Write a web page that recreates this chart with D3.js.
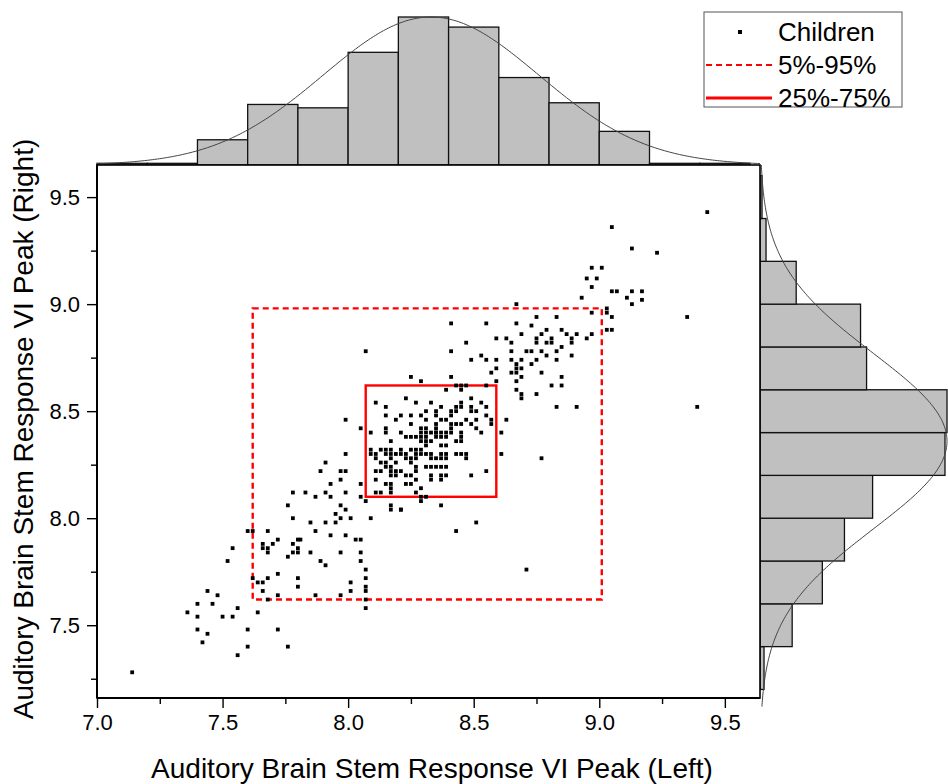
<!DOCTYPE html>
<html><head><meta charset="utf-8">
<script src="https://cdn.jsdelivr.net/npm/d3@7"></script>
<style>body{margin:0;background:#fff}svg{display:block;font-family:"Liberation Sans",Arial,sans-serif}</style>
</head><body><svg id="c" width="948" height="784"></svg>
<script>
// ---- data ----
const xTicks = [7.0, 7.5, 8.0, 8.5, 9.0, 9.5];
const xMinor = [7.25, 7.75, 8.25, 8.75, 9.25];
const yTicks = [7.5, 8.0, 8.5, 9.0, 9.5];
const yMinor = [7.25, 7.75, 8.25, 8.75, 9.25];
const binWidth = 0.2;
const topBinStarts = [7.0, 7.2, 7.4, 7.6, 7.8, 8.0, 8.2, 8.4, 8.6, 8.8, 9.0, 9.2, 9.4];
const topCounts    = [1, 1, 15, 36, 34, 67, 88, 82, 52, 37, 20, 1, 1];
const rightBinStarts = [7.2, 7.4, 7.6, 7.8, 8.0, 8.2, 8.4, 8.6, 8.8, 9.0, 9.2, 9.4];
const rightCounts    = [2, 16, 31, 42, 56, 92, 93, 53, 50, 18, 3, 1];
const topFit = [8.33, 0.43, 88];    // mean, sd, peak (counts)
const rightFit = [8.36, 0.41, 93];
const range5to95Left = [7.62, 9.01];
const range5to95Right = [7.62, 8.98];
const range25to75Left = [8.07, 8.59];
const range25to75Right = [8.10, 8.62];
const legendLabels = ["Children", "5%-95%", "25%-75%"];
const xTitle = "Auditory Brain Stem Response VI Peak (Left)";
const yTitle = "Auditory Brain Stem Response VI Peak (Right)";
// [left, right]
const children = [
[9.43,9.43],[9.05,9.36],[9.13,9.26],[9.23,9.24],[8.97,9.17],[9.01,9.17],[8.95,9.12],[8.99,9.12],[8.97,9.08],[8.93,9.03],
[9.05,9.06],[9.07,9.06],[9.11,9.03],[9.13,9.06],[9.17,9.06],[9.13,9.00],[9.17,9.02],[9.35,8.94],[9.39,8.52],
[8.67,9.00],[9.03,8.98],[9.03,8.96],[9.05,8.94],[9.03,8.88],[9.05,8.88],[8.97,8.96],[8.41,8.91],[8.55,8.91],[8.67,8.91],
[8.75,8.94],[8.83,8.94],[8.73,8.90],[8.85,8.88],[8.79,8.88],[8.69,8.86],[8.77,8.86],[8.87,8.86],[8.89,8.84],[8.91,8.86],
[8.95,8.84],[8.97,8.86],[8.75,8.84],[8.75,8.82],[8.79,8.82],[8.81,8.84],[8.81,8.82],[8.59,8.84],[8.63,8.84],[8.65,8.82],
[8.47,8.82],[8.89,8.82],[8.85,8.80],[8.41,8.78],[8.65,8.78],[8.71,8.78],[8.73,8.78],[8.77,8.78],[8.83,8.78],[8.89,8.76],
[8.79,8.76],[8.53,8.76],[8.49,8.74],[8.55,8.74],[8.59,8.74],[8.65,8.74],[8.67,8.72],[8.69,8.74],[8.73,8.72],[8.75,8.74],
[8.83,8.74],[8.59,8.70],[8.57,8.68],[8.67,8.70],[8.69,8.70],[8.65,8.68],[8.67,8.68],[8.69,8.66],[8.77,8.68],[8.25,8.66],
[8.29,8.64],[8.41,8.66],[8.59,8.64],[8.67,8.64],[8.67,8.60],[8.69,8.58],[8.69,8.56],[8.75,8.58],[8.81,8.62],[8.85,8.62],
[8.85,8.66],[8.83,8.52],[8.91,8.52],[8.39,8.60],[8.43,8.62],[8.45,8.62],[8.47,8.62],[8.45,8.60],[8.55,8.62],[8.07,8.78],
[8.11,8.54],[8.23,8.56],[8.27,8.54],[8.15,8.52],[8.33,8.54],[8.15,8.48],[8.19,8.46],[8.21,8.48],[8.25,8.48],[8.29,8.48],
[8.31,8.50],[8.31,8.46],[8.05,8.42],[8.09,8.40],[8.15,8.42],[8.15,8.40],[8.21,8.40],[8.25,8.44],[8.25,8.38],[8.27,8.38],
[8.29,8.40],[8.29,8.38],[8.31,8.40],[8.31,8.38],[8.33,8.40],[8.17,8.36],[8.29,8.36],[8.31,8.34],[8.33,8.36],[8.09,8.32],
[8.09,8.30],[8.11,8.30],[8.11,8.28],[8.13,8.32],[8.15,8.32],[8.17,8.32],[8.15,8.30],[8.17,8.30],[8.17,8.28],[8.19,8.30],
[8.21,8.30],[8.21,8.32],[8.23,8.30],[8.25,8.32],[8.27,8.32],[8.27,8.30],[8.29,8.32],[8.31,8.30],[8.33,8.30],[8.25,8.28],
[8.27,8.28],[8.13,8.26],[8.15,8.26],[8.19,8.26],[8.31,8.24],[8.11,8.22],[8.17,8.22],[8.19,8.20],[8.21,8.22],[8.15,8.24],
[8.23,8.20],[8.25,8.20],[8.27,8.22],[8.33,8.20],[8.11,8.18],[8.15,8.16],[8.17,8.16],[8.23,8.16],[8.25,8.16],[8.27,8.18],
[8.05,8.16],[8.11,8.12],[8.13,8.12],[8.17,8.12],[8.27,8.12],[8.29,8.14],[8.07,8.08],[8.23,8.38],[8.37,8.38],[8.39,8.38],
[8.35,8.40],[8.31,8.36],[8.37,8.34],[8.39,8.34],[8.23,8.28],[8.29,8.30],[8.35,8.28],[8.37,8.30],[8.39,8.30],[8.25,8.26],
[8.33,8.24],[8.37,8.24],[8.39,8.24],[8.17,8.24],[8.19,8.22],[8.17,8.20],[8.13,8.22],[8.33,8.18],[8.37,8.18],[8.37,8.20],
[8.39,8.20],[8.17,8.14],[8.49,8.56],[8.45,8.54],[8.43,8.52],[8.45,8.52],[8.53,8.54],[8.55,8.52],[8.37,8.52],[8.35,8.50],
[8.35,8.48],[8.41,8.50],[8.43,8.50],[8.41,8.48],[8.49,8.52],[8.49,8.50],[8.51,8.50],[8.55,8.48],[8.57,8.46],[8.57,8.44],
[8.37,8.46],[8.39,8.46],[8.47,8.46],[8.51,8.46],[8.49,8.44],[8.35,8.44],[8.35,8.42],[8.35,8.40],[8.43,8.44],[8.45,8.44],
[8.41,8.42],[8.51,8.42],[8.63,8.46],[8.61,8.40],[8.37,8.40],[8.39,8.40],[8.35,8.38],[8.41,8.40],[8.45,8.40],[8.43,8.36],
[8.45,8.36],[8.39,8.28],[8.43,8.30],[8.45,8.30],[8.47,8.30],[8.35,8.24],[8.61,8.30],[8.49,8.20],[8.55,8.22],[8.37,8.06],
[8.77,8.28],[8.51,7.98],[8.43,7.94],[8.71,7.76],[8.29,8.08],[8.29,8.10],[8.31,8.10],[8.21,8.04],[8.29,8.42],[8.31,8.42],
[8.45,8.38],[8.33,8.28],[8.37,8.28],[8.47,8.28],[8.17,8.06],[8.17,8.04],[8.21,8.04],[8.41,8.44],[8.53,8.40],[8.27,8.24],
[7.99,8.46],[7.99,8.30],[7.91,8.26],[7.89,8.22],[7.97,8.22],[7.99,8.22],[7.97,8.18],[7.93,8.16],[7.78,8.12],[7.83,8.12],
[7.87,8.10],[7.91,8.12],[7.93,8.10],[7.99,8.12],[8.05,8.10],[7.76,8.06],[7.97,8.06],[7.99,8.04],[7.95,8.02],[7.97,8.00],
[8.01,8.00],[7.78,8.00],[7.85,7.98],[7.91,7.98],[7.95,7.98],[8.09,8.00],[7.87,7.94],[7.60,7.94],[7.62,7.94],[7.68,7.94],
[7.93,7.92],[7.99,7.92],[8.03,7.90],[8.05,7.90],[7.66,7.88],[7.66,7.86],[7.70,7.88],[7.72,7.90],[7.78,7.88],[7.80,7.90],
[7.81,7.90],[7.80,7.86],[7.80,7.84],[7.78,7.84],[7.76,7.82],[7.68,7.86],[7.68,7.84],[7.54,7.86],[7.52,7.80],[7.85,7.84],
[7.89,7.80],[7.91,7.78],[7.97,7.84],[8.05,7.84],[8.05,7.80],[8.07,7.76],[8.07,7.72],[7.72,7.74],[7.68,7.72],[7.66,7.70],
[7.64,7.70],[7.62,7.72],[7.80,7.72],[7.80,7.68],[8.01,7.70],[8.07,7.68],[8.07,7.66],[7.66,7.66],[7.68,7.62],[7.72,7.64],
[7.87,7.64],[7.97,7.64],[8.01,7.66],[8.07,7.62],[8.07,7.58],[7.44,7.66],[7.48,7.64],[7.40,7.60],[7.46,7.60],[7.56,7.58],
[7.64,7.56],[7.36,7.56],[7.40,7.54],[7.50,7.54],[7.54,7.54],[7.40,7.48],[7.44,7.46],[7.60,7.48],[7.72,7.48],[7.42,7.42],
[7.60,7.40],[7.76,7.40],[7.56,7.36],[7.14,7.28]
];

// ---- chart ----
const svg = d3.select("#c");
const x = d3.scaleLinear().domain([7.0, 9.64]).range([97, 760]);
const y = d3.scaleLinear().domain([7.16, 9.65]).range([698, 165]);
const topH = d3.scaleLinear().domain([0, 88]).range([165, 17]);
const rightW = d3.scaleLinear().domain([0, 93]).range([760, 947]);
const [x0, x1] = x.range(), [y0, y1] = y.range();

// top histogram
svg.append("g").selectAll("rect").data(topBinStarts.map((s,i)=>[s,topCounts[i]])).join("rect")
  .attr("x", d=>x(d[0])).attr("width", d=>x(d[0]+binWidth)-x(d[0]))
  .attr("y", d=>topH(d[1])).attr("height", d=>topH(0)-topH(d[1]))
  .attr("fill","#c0c0c0").attr("stroke","#111").attr("stroke-width",1.3);
const gauss = (v,p)=>p[2]*Math.exp(-((v-p[0])**2)/(2*p[1]*p[1]));
const tv = d3.range(7.0, 9.641, 0.01);
svg.append("path").attr("d", d3.line().x(v=>x(v)).y(v=>topH(gauss(v,topFit)))(tv))
  .attr("fill","none").attr("stroke","#444").attr("stroke-width",1);

// right histogram
svg.append("g").selectAll("rect").data(rightBinStarts.map((s,i)=>[s,rightCounts[i]])).join("rect")
  .attr("y", d=>y(Math.min(d[0]+binWidth, 9.65))).attr("height", d=>y(d[0])-y(Math.min(d[0]+binWidth,9.65)))
  .attr("x", rightW(0)).attr("width", d=>rightW(d[1])-rightW(0))
  .attr("fill","#c0c0c0").attr("stroke","#111").attr("stroke-width",1.3);
const rv = d3.range(7.12, 9.651, 0.01);
svg.append("path").attr("d", d3.line().y(v=>y(v)).x(v=>rightW(gauss(v,rightFit)))(rv))
  .attr("fill","none").attr("stroke","#444").attr("stroke-width",1);

// plot frame
svg.append("rect").attr("x",x0).attr("y",y1).attr("width",x1-x0).attr("height",y0-y1)
  .attr("fill","#fff").attr("stroke","#000").attr("stroke-width",1.6);

// percentile boxes
svg.append("rect").attr("x",x(range5to95Left[0])).attr("width",x(range5to95Left[1])-x(range5to95Left[0]))
  .attr("y",y(range5to95Right[1])).attr("height",y(range5to95Right[0])-y(range5to95Right[1]))
  .attr("fill","none").attr("stroke","#ff0000").attr("stroke-width",2.4).attr("stroke-dasharray","6,4");
svg.append("rect").attr("x",x(range25to75Left[0])).attr("width",x(range25to75Left[1])-x(range25to75Left[0]))
  .attr("y",y(range25to75Right[1])).attr("height",y(range25to75Right[0])-y(range25to75Right[1]))
  .attr("fill","none").attr("stroke","#ff0000").attr("stroke-width",2.4);

// points
const ms = 3.8;
svg.append("g").selectAll("rect").data(children).join("rect")
  .attr("x", d=>x(d[0])-ms/2).attr("y", d=>y(d[1])-ms/2).attr("width",ms).attr("height",ms).attr("fill","#000");

// axes
const fmt = d3.format(".1f");
const xa = svg.append("g").attr("transform",`translate(0,${y0})`)
  .call(d3.axisBottom(x).tickValues(xTicks).tickFormat(fmt).tickSize(10).tickSizeOuter(0).tickPadding(6));
xa.append("g").call(d3.axisBottom(x).tickValues(xMinor).tickFormat("").tickSize(6).tickSizeOuter(0));
const ya = svg.append("g").attr("transform",`translate(${x0},0)`)
  .call(d3.axisLeft(y).tickValues(yTicks).tickFormat(fmt).tickSize(10).tickSizeOuter(0).tickPadding(7));
ya.append("g").call(d3.axisLeft(y).tickValues(yMinor).tickFormat("").tickSize(6).tickSizeOuter(0));
svg.selectAll(".domain").remove();
svg.selectAll(".tick line").attr("stroke","#000").attr("stroke-width",1.4);
xa.selectAll(".tick text").attr("font-size",22).attr("font-family","Liberation Sans, Arial").attr("fill","#000");
ya.selectAll(".tick text").attr("font-size",22).attr("font-family","Liberation Sans, Arial").attr("fill","#000");
// axis lines
svg.append("line").attr("x1",x0).attr("x2",x1).attr("y1",y0).attr("y2",y0).attr("stroke","#000").attr("stroke-width",2);
svg.append("line").attr("x1",x0).attr("x2",x0).attr("y1",y1).attr("y2",y0).attr("stroke","#000").attr("stroke-width",2);

// titles
svg.append("text").attr("x",432).attr("y",778).attr("text-anchor","middle")
  .attr("font-size",28).attr("fill","#000").text(xTitle);
svg.append("text").attr("transform",`translate(33,429) rotate(-90)`).attr("text-anchor","middle")
  .attr("font-size",28).attr("fill","#000").text(yTitle);

// legend
const lg = svg.append("g");
lg.append("rect").attr("x",704).attr("y",12).attr("width",198).attr("height",95)
  .attr("fill","#fff").attr("stroke","#555").attr("stroke-width",1);
lg.append("rect").attr("x",740-2).attr("y",32-2).attr("width",4).attr("height",4).attr("fill","#000");
lg.append("line").attr("x1",706).attr("x2",772).attr("y1",65).attr("y2",65)
  .attr("stroke","#ff0000").attr("stroke-width",2.2).attr("stroke-dasharray","6,4");
lg.append("line").attr("x1",706).attr("x2",772).attr("y1",98).attr("y2",98)
  .attr("stroke","#ff0000").attr("stroke-width",3);
lg.selectAll("text").data(legendLabels).join("text")
  .attr("x",778).attr("y",(d,i)=>41+i*33).attr("font-size",26).attr("fill","#000").text(d=>d);
</script></body></html>
